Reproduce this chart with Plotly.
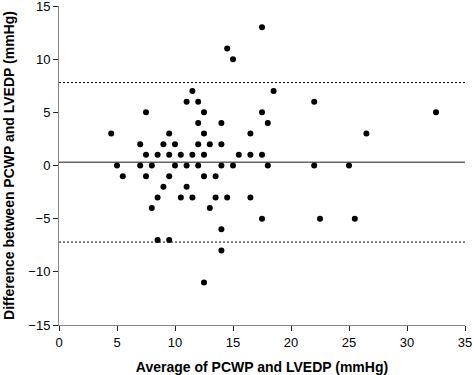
import plotly.graph_objects as go

# Bland-Altman data (x = average, y = difference)
avg = [17.5, 14.5, 15, 11.5, 18.5, 11, 12, 22, 7.5, 12.5, 17.5, 32.5,
       12, 14, 18, 4.5, 9.5, 12.5, 16.5, 26.5,
       7, 9, 10, 12, 13, 14,
       7.5, 8.5, 9.5, 10.5, 11.5, 12.5, 15.5, 16.5, 17.5,
       5, 7, 8, 10, 11, 12, 14, 15, 18, 22, 25,
       5.5, 7.5, 9.5, 12.5, 13.5,
       9, 11,
       8.5, 10.5, 11.5, 13.5, 14.5, 16.5,
       8, 13,
       17.5, 22.5, 25.5,
       14, 8.5, 9.5, 14, 12.5]
diff = [13, 11, 10, 7, 7, 6, 6, 6, 5, 5, 5, 5,
        4, 4, 4, 3, 3, 3, 3, 3,
        2, 2, 2, 2, 2, 2,
        1, 1, 1, 1, 1, 1, 1, 1, 1,
        0, 0, 0, 0, 0, 0, 0, 0, 0, 0, 0,
        -1, -1, -1, -1, -1,
        -2, -2,
        -3, -3, -3, -3, -3, -3,
        -4, -4,
        -5, -5, -5,
        -6, -7, -7, -8, -11]

bias = 0.3
upper_loa = 7.8
lower_loa = -7.2
x_range = [0, 35]
x_ticks = [0, 5, 10, 15, 20, 25, 30, 35]
y_ticks = [-15, -10, -5, 0, 5, 10, 15]

fig = go.Figure()
fig.add_trace(go.Scatter(x=avg, y=diff, mode="markers",
                         marker=dict(color="black", size=6),
                         showlegend=False, cliponaxis=False, hoverinfo="skip"))

fig.add_shape(type="line", x0=x_range[0], x1=x_range[1], y0=bias, y1=bias,
              line=dict(color="#666666", width=1.5), layer="below")
for v in (upper_loa, lower_loa):
    fig.add_shape(type="line", x0=x_range[0], x1=x_range[1], y0=v, y1=v,
                  line=dict(color="black", width=1, dash="2px,2px"), layer="below")

font = dict(family="Liberation Sans, Arial, sans-serif", size=12, color="black")
fig.update_layout(
    width=474, height=375,
    margin=dict(l=59, r=9, t=6, b=50),
    plot_bgcolor="white", paper_bgcolor="white",
    font=font,
    xaxis=dict(range=x_range, tickvals=x_ticks, showgrid=False, zeroline=False,
               showline=True, linecolor="#888888", linewidth=1, automargin=False,
               ticks="outside", ticklen=5, tickcolor="#222222",
               tickfont=dict(size=13), ticklabeloverflow="allow",
               title=dict(text="<b>Average of PCWP and LVEDP (mmHg)</b>", standoff=14)),
    yaxis=dict(range=[-15, 15], tickvals=y_ticks, showgrid=False, zeroline=False,
               showline=True, linecolor="#888888", linewidth=1, automargin=False,
               ticks="outside", ticklen=5, tickcolor="#222222",
               tickfont=dict(size=13), ticklabeloverflow="allow",
               title=dict(text="<b>Difference between PCWP and LVEDP (mmHg)</b>", standoff=10)),
)
fig.write_html("out.html", config={"displayModeBar": False},
               post_script="document.body.style.margin='0';")
